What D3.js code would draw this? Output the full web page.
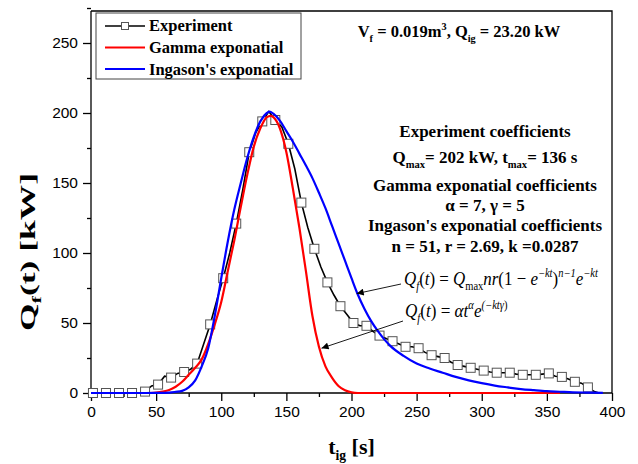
<!DOCTYPE html>
<html lang="en">
<head>
<meta charset="UTF-8">
<title>Heat release rate</title>
<script src="https://d3js.org/d3.v7.min.js"></script>
<style>
  body { margin: 0; background: #fff; }
  svg { display: block; }
  .tick text { font-family: "Liberation Sans", Arial, sans-serif; font-size: 15.5px; fill: #000; }
  .serif { font-family: "Liberation Serif", "Times New Roman", serif; }
</style>
</head>
<body>
<svg id="chart" width="638" height="464"></svg>
<script>
// experiment (sampled every 5 s, squares every 10 s)
const expT = [1.5, 6.5, 11.5, 16.5, 21.5, 26.5, 31.5, 36.5, 41.5, 46.5, 51.5, 56.5, 61.5, 66.5, 71.5, 76.5,
  81.5, 86.5, 91.5, 96.5, 101.5, 106.5, 111.5, 116.5, 121.5, 126.5, 131.5, 136.5, 141.5, 146.5, 151.5,
  156.5, 161.5, 166.5, 171.5, 176.5, 181.5, 186.5, 191.5, 196.5, 201.5, 206.5, 211.5, 216.5, 221.5,
  226.5, 231.5, 236.5, 241.5, 246.5, 251.5, 256.5, 261.5, 266.5, 271.5, 276.5, 281.5, 286.5, 291.5,
  296.5, 301.5, 306.5, 311.5, 316.5, 321.5, 326.5, 331.5, 336.5, 341.5, 346.5, 351.5, 356.5, 361.5,
  366.5, 371.5, 376.5, 381.5, 386.5, 390];
const expQ = [0, 0, 0, 0, 0, 0, 0, 0, 1, 5, 6, 12, 11, 14, 15, 17,
  21, 35, 49, 66, 82, 100, 121, 145, 172, 186, 194, 201, 195, 190, 178,
  160, 136, 118, 103, 90, 79, 70, 62, 56, 50, 48, 48, 44, 41,
  39, 37, 35, 33, 33, 32, 29, 27, 26, 25, 22, 20, 19, 18,
  17, 16, 15, 14.5, 14.5, 14.5, 13.5, 13, 13, 13, 13.5, 14, 12, 11.5,
  10, 8, 7, 4, 1, 0];

// gamma exponential fit
const gamT = [45, 50, 55, 60, 65, 70, 75, 80, 85, 90, 95, 100, 105, 110, 115, 120, 125, 130, 135, 138,
  140, 145, 150, 155, 160, 165, 170, 175, 180, 185, 190, 195, 200, 205, 360];
const gamQ = [0, 0.3, 1, 2.2, 4.5, 8, 13, 18, 24, 35, 49, 65, 87, 109, 133, 156, 176, 189, 197, 198,
  197, 189, 172, 146, 118, 87, 55, 33, 19, 11, 5, 2, 0.5, 0, 0];

// Ingason's exponential fit
const ingT = [0, 40, 50, 60, 65, 70, 75, 80, 85, 90, 95, 100, 105, 110, 115, 120, 125, 130, 135, 137,
  140, 145, 150, 155, 160, 165, 170, 175, 180, 185, 190, 195, 200, 205, 210, 215, 220, 225, 230, 240,
  250, 260, 270, 280, 290, 300, 310, 320, 330, 340, 350, 360, 370, 380, 393];
const ingQ = [0, 0, 0.1, 0.3, 0.8, 1.5, 4, 9, 19, 32, 55, 82, 108, 131, 150, 168, 183, 194, 200, 201,
  199.5, 194.5, 187, 179.5, 171, 162.5, 153.5, 143, 132, 119.5, 107, 94.5, 82, 70, 60, 51.5, 44.5, 38.5, 33.5, 26.5,
  21, 17.5, 14.5, 11.5, 9, 7, 5.3, 4, 2.8, 2, 1.3, 0.9, 0.5, 0.3, 0.1];

const xTicks = [0, 50, 100, 150, 200, 250, 300, 350, 400];
const yTicks = [0, 50, 100, 150, 200, 250];

const svg = d3.select("#chart");
const x = d3.scaleLinear().domain([0, 400]).range([91, 612]);
const y = d3.scaleLinear().domain([0, 250]).range([393, 43]);
const yTop = 11;

// frame
svg.append("path")
  .attr("d", `M91,${yTop}H612V393`)
  .attr("fill", "none").attr("stroke", "#000").attr("stroke-width", 1.3);

// axes
svg.append("g").attr("transform", "translate(0,393)")
  .call(d3.axisBottom(x).tickValues(xTicks).tickSize(8).tickPadding(5));
svg.append("g").attr("transform", "translate(0,393)")
  .call(d3.axisBottom(x).tickValues(xTicks.slice(0, -1).map(d => d + 25)).tickSize(4).tickFormat(""));
svg.append("g").attr("transform", "translate(91,0)")
  .call(d3.axisLeft(y).tickValues(yTicks).tickSize(8).tickPadding(5));
svg.append("g").attr("transform", "translate(91,0)")
  .call(d3.axisLeft(y).tickValues(yTicks.map(d => d + 25)).tickSize(4).tickFormat(""));
svg.selectAll(".domain").remove();
svg.selectAll(".tick line").attr("stroke", "#000").attr("stroke-width", 1.3);
svg.append("line").attr("x1", 91).attr("x2", 91).attr("y1", yTop).attr("y2", 393)
  .attr("stroke", "#000").attr("stroke-width", 1.3);
svg.append("line").attr("x1", 91).attr("x2", 612).attr("y1", 393).attr("y2", 393)
  .attr("stroke", "#000").attr("stroke-width", 1.3);

// rich text helper: segs = [text, mode, italic]
function rich(sel, px, py, segs, size, weight, anchor) {
  const t = sel.append("text").attr("class", "serif").attr("x", px).attr("y", py)
    .attr("font-size", size).attr("font-weight", weight || "normal")
    .attr("text-anchor", anchor || "start").attr("fill", "#000");
  let shift = 0;
  segs.forEach(s => {
    const [txt, mode, it] = s;
    let target = 0, fs = size;
    if (mode === "sub") { target = size * 0.28; fs = size * 0.62; }
    if (mode === "sup") { target = -size * 0.4; fs = size * 0.62; }
    t.append("tspan").attr("dy", target - shift).attr("font-size", fs)
      .attr("font-style", it ? "italic" : "normal").text(txt);
    shift = target;
  });
  return t;
}

// curves
const line = d3.line().x(d => x(d[0])).y(d => y(d[1]));
const smooth = d3.line().x(d => x(d[0])).y(d => y(d[1])).curve(d3.curveMonotoneX);
const expData = expT.map((t, i) => [t, expQ[i]]);
svg.append("path").datum(expData).attr("d", line)
  .attr("fill", "none").attr("stroke", "#000").attr("stroke-width", 1.6);
svg.selectAll(".mk").data(expData.filter((d, i) => i % 2 === 0 && i < expT.length - 1))
  .enter().append("rect").attr("class", "mk")
  .attr("x", d => x(d[0]) - 4.5).attr("y", d => y(d[1]) - 4.5)
  .attr("width", 9).attr("height", 9)
  .attr("fill", "#fff").attr("stroke", "#555").attr("stroke-width", 1);
svg.append("path").datum(gamT.map((t, i) => [t, gamQ[i]])).attr("d", smooth)
  .attr("fill", "none").attr("stroke", "#ff0000").attr("stroke-width", 2.2);
svg.append("path").datum(ingT.map((t, i) => [t, ingQ[i]])).attr("d", smooth)
  .attr("fill", "none").attr("stroke", "#0000ff").attr("stroke-width", 2.2);

// legend
const lg = svg.append("g");
lg.append("rect").attr("x", 96).attr("y", 13).attr("width", 205).attr("height", 66)
  .attr("fill", "#fff").attr("stroke", "#444").attr("stroke-width", 1);
const legItems = [["Experiment", "#000", 26, 31], ["Gamma exponatial", "#ff0000", 47.5, 53], ["Ingason's exponatial", "#0000ff", 69, 74.5]];
legItems.forEach(([name, col, ly, ty], i) => {
  lg.append("line").attr("x1", 105).attr("x2", 145).attr("y1", ly).attr("y2", ly)
    .attr("stroke", col).attr("stroke-width", i === 0 ? 1.6 : 2.2);
  if (i === 0) lg.append("rect").attr("x", 121.5).attr("y", ly - 3.5).attr("width", 7).attr("height", 7)
    .attr("fill", "#fff").attr("stroke", "#555");
  lg.append("text").attr("class", "serif").attr("x", 149).attr("y", ty)
    .attr("font-size", 16.5).attr("font-weight", "bold").text(name);
});

// annotations
rich(svg, 459, 37, [["V"], ["f", "sub"], [" = 0.019m"], ["3", "sup"], [", Q"], ["ig", "sub"], [" = 23.20 kW"]], 16.5, "bold", "middle");
const cx = 485;
rich(svg, cx, 137, [["Experiment coefficients"]], 17, "bold", "middle");
rich(svg, cx, 163, [["Q"], ["max", "sub"], ["= 202 kW, t"], ["max", "sub"], ["= 136 s"]], 17, "bold", "middle");
rich(svg, cx, 191, [["Gamma exponatial coefficients"]], 17, "bold", "middle");
rich(svg, cx, 211, [["\u03b1 = 7, \u03b3 = 5"]], 17, "bold", "middle");
rich(svg, cx, 231, [["Ingason's exponatial coefficients"]], 17, "bold", "middle");
rich(svg, cx, 252, [["n = 51, r = 2.69, k =0.0287"]], 17, "bold", "middle");

// formulas, squeezed to the reference width
const f1 = svg.append("g").attr("transform", "translate(404,285) scale(0.89,1)");
rich(f1, 0, 0, [["Q", null, 1], ["f", "sub", 1], ["("], ["t", null, 1], [") = "], ["Q", null, 1], ["max", "sub"],
  ["nr", null, 1], ["(1 \u2212 "], ["e", null, 1], ["\u2212kt", "sup", 1], [")"], ["n\u22121", "sup", 1], ["e", null, 1], ["\u2212kt", "sup", 1]], 19);
const f2 = svg.append("g").attr("transform", "translate(405,317) scale(0.9,1)");
rich(f2, 0, 0, [["Q", null, 1], ["f", "sub", 1], ["("], ["t", null, 1], [") = "], ["\u03b1t", null, 1], ["\u03b1", "sup", 1],
  ["e", null, 1], ["(\u2212kt", "sup", 1], ["\u03b3", "sup", 1], [")", "sup"]], 19);

// arrows
const defs = svg.append("defs");
defs.append("marker").attr("id", "ah").attr("viewBox", "0 0 10 10").attr("refX", 10).attr("refY", 5)
  .attr("markerWidth", 9).attr("markerHeight", 7).attr("markerUnits", "userSpaceOnUse").attr("orient", "auto")
  .append("path").attr("d", "M0,0L10,5L0,10Z").attr("fill", "#000");
svg.append("line").attr("x1", 401).attr("y1", 284).attr("x2", x(204)).attr("y2", y(71))
  .attr("stroke", "#000").attr("stroke-width", 0.9).attr("marker-end", "url(#ah)");
svg.append("line").attr("x1", 403).attr("y1", 321).attr("x2", x(177)).attr("y2", y(32))
  .attr("stroke", "#000").attr("stroke-width", 0.9).attr("marker-end", "url(#ah)");

// axis titles
rich(svg, 351.5, 454, [["t"], ["ig", "sub"], [" [s]"]], 22, "bold", "middle");
const yt = svg.append("g").attr("transform", "translate(35,252) rotate(-90)");
const ytt = rich(yt, 0, 0, [["Q"], ["f", "sub"], ["(t) [kW]"]], 21, "bold", "middle");
const yl = ytt.node().getComputedTextLength();
yt.attr("transform", `translate(35,252) rotate(-90) scale(${158 / yl},1)`);
</script>
</body>
</html>
